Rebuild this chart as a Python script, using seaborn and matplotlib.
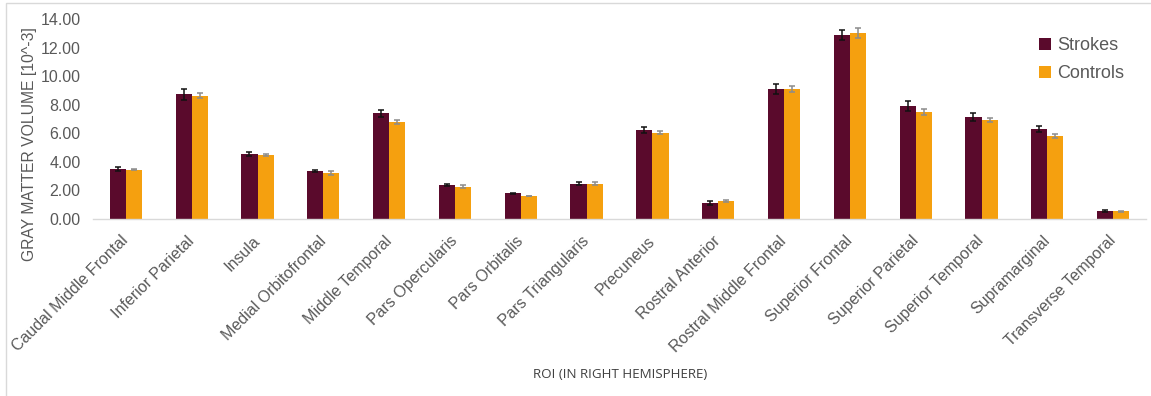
import matplotlib
matplotlib.use("Agg")
import matplotlib.pyplot as plt
import seaborn as sns
import pandas as pd
import numpy as np
from matplotlib.patches import Rectangle

# Regions of interest (right hemisphere)
regions = [
    "Caudal Middle Frontal", "Inferior Parietal", "Insula", "Medial Orbitofrontal",
    "Middle Temporal", "Pars Opercularis", "Pars Orbitalis", "Pars Triangularis",
    "Precuneus", "Rostral Anterior", "Rostral Middle Frontal", "Superior Frontal",
    "Superior Parietal", "Superior Temporal", "Supramarginal", "Transverse Temporal",
]

# Mean gray matter volume [10^-3]
strokes_mean = [3.52, 8.73, 4.54, 3.38, 7.41, 2.37, 1.79, 2.47,
                6.22, 1.12, 9.08, 12.86, 7.90, 7.15, 6.29, 0.56]
controls_mean = [3.45, 8.64, 4.47, 3.21, 6.80, 2.26, 1.61, 2.47,
                 6.05, 1.28, 9.08, 13.02, 7.48, 6.92, 5.82, 0.53]

# Standard errors
strokes_err = [0.15, 0.37, 0.12, 0.06, 0.25, 0.07, 0.03, 0.10,
               0.22, 0.12, 0.35, 0.35, 0.33, 0.28, 0.20, 0.05]
controls_err = [0.03, 0.20, 0.08, 0.12, 0.12, 0.12, 0.03, 0.10,
                0.08, 0.06, 0.20, 0.32, 0.20, 0.15, 0.12, 0.05]

groups = ["Strokes", "Controls"]
colors = {"Strokes": "#5A0A2C", "Controls": "#F5A00F"}
err_colors = {"Strokes": "#111111", "Controls": "#8C8C8C"}

df = pd.DataFrame({
    "ROI": regions * 2,
    "Group": ["Strokes"] * len(regions) + ["Controls"] * len(regions),
    "Volume": strokes_mean + controls_mean,
    "Err": strokes_err + controls_err,
})

sns.set_style("white")
plt.rcParams["font.family"] = ["Liberation Sans", "DejaVu Sans"]

fig = plt.figure(figsize=(11.51, 3.96), dpi=100)
ax = fig.add_axes([0.0808, 0.447, 0.9149, 0.505])

sns.barplot(data=df, x="ROI", y="Volume", hue="Group", hue_order=groups,
            order=regions, palette=colors, width=0.49, errorbar=None,
            saturation=1, linewidth=0, ax=ax, legend=True)

# Error bars placed on the bars seaborn drew
for container, g in zip(ax.containers, groups):
    sub = df[df["Group"] == g].set_index("ROI").loc[regions]
    xs = [p.get_x() + p.get_width() / 2 for p in container.patches]
    ax.errorbar(xs, sub["Volume"].values, yerr=sub["Err"].values, fmt="none",
                ecolor=err_colors[g], elinewidth=1.1, capsize=2.4, capthick=1.1,
                zorder=3)

ax.set_ylim(0, 14)
ax.set_xlim(-0.5, len(regions) - 0.5)
yt = np.arange(0, 14.01, 2)
ax.set_yticks(yt)
ax.set_yticklabels([f"{v:.2f}" for v in yt], fontsize=11.5, color="#595959")
ax.set_xticks(range(len(regions)))
ax.set_xticklabels(regions, rotation=45, ha="right", va="center",
                   rotation_mode="anchor", fontsize=11.5, color="#595959")
ax.tick_params(axis="y", length=0, pad=9)
ax.tick_params(axis="x", length=0, pad=14)

for s in ["top", "right", "left"]:
    ax.spines[s].set_visible(False)
ax.spines["bottom"].set_color("#D9D9D9")
ax.spines["bottom"].set_linewidth(1.0)

ax.set_ylabel("GRAY MATTER VOLUME [10^-3]", fontsize=11.3, color="#595959")
ax.yaxis.set_label_coords(-0.053, 0.375)
ax.set_xlabel("")
fig.text(0.539, 0.055, "ROI (IN RIGHT HEMISPHERE)", ha="center", va="center",
         fontsize=9.6, color="#404040", family=["Open Sans", "DejaVu Sans"])

leg = ax.legend(loc="upper right", bbox_to_anchor=(0.995, 0.99), frameon=False,
                fontsize=13, handlelength=0.65, handleheight=0.65,
                handletextpad=0.35, labelspacing=0.6)
for t in leg.get_texts():
    t.set_color("#595959")

# Chart area border
fig.patches.append(Rectangle((6 / 1151, -0.1), 2.0, (393 + 39.6) / 396,
                             transform=fig.transFigure, fill=False,
                             edgecolor="#D9D9D9", linewidth=1.0))

fig.savefig("out.png", dpi=100, facecolor="white")
